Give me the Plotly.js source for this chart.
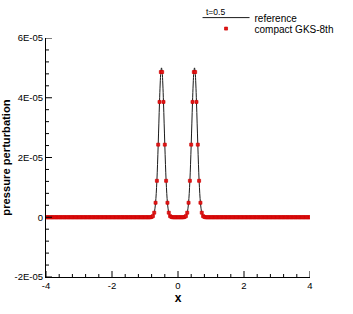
<!DOCTYPE html>
<html><head><meta charset="utf-8">
<script src="https://cdn.plot.ly/plotly-3.0.1.min.js"></script>
<style>html,body{margin:0;padding:0;background:#fff}</style>
</head><body><div id="chart" style="width:353px;height:314px"></div>
<script>
// compact GKS-8th samples (x nodes, pressure perturbation)
const gksX = [
-4,-3.96,-3.92,-3.88,-3.84,-3.8,-3.76,-3.72,-3.68,-3.64,-3.6,-3.56,-3.52,-3.48,-3.44,-3.4,-3.36,-3.32,-3.28,-3.24,
-3.2,-3.16,-3.12,-3.08,-3.04,-3,-2.96,-2.92,-2.88,-2.84,-2.8,-2.76,-2.72,-2.68,-2.64,-2.6,-2.56,-2.52,-2.48,-2.44,
-2.4,-2.36,-2.32,-2.28,-2.24,-2.2,-2.16,-2.12,-2.08,-2.04,-2,-1.96,-1.92,-1.88,-1.84,-1.8,-1.76,-1.72,-1.68,-1.64,
-1.6,-1.56,-1.52,-1.48,-1.44,-1.4,-1.36,-1.32,-1.28,-1.24,-1.2,-1.16,-1.12,-1.08,-1.04,-1,-0.96,-0.92,-0.88,-0.84,
-0.8,-0.76,-0.72,-0.68,-0.64,-0.6,-0.56,-0.52,-0.48,-0.44,-0.4,-0.36,-0.32,-0.28,-0.24,-0.2,-0.16,-0.12,-0.08,-0.04,
0,
0.04,0.08,0.12,0.16,0.2,0.24,0.28,0.32,0.36,0.4,0.44,0.48,0.52,0.56,0.6,0.64,0.68,0.72,0.76,0.8,
0.84,0.88,0.92,0.96,1,1.04,1.08,1.12,1.16,1.2,1.24,1.28,1.32,1.36,1.4,1.44,1.48,1.52,1.56,1.6,
1.64,1.68,1.72,1.76,1.8,1.84,1.88,1.92,1.96,2,2.04,2.08,2.12,2.16,2.2,2.24,2.28,2.32,2.36,2.4,
2.44,2.48,2.52,2.56,2.6,2.64,2.68,2.72,2.76,2.8,2.84,2.88,2.92,2.96,3,3.04,3.08,3.12,3.16,3.2,
3.24,3.28,3.32,3.36,3.4,3.44,3.48,3.52,3.56,3.6,3.64,3.68,3.72,3.76,3.8,3.84,3.88,3.92,3.96,4
];
const gksP = [
0,0,0,0,0,0,0,0,0,0,0,0,0,0,0,0,0,0,0,0,
0,0,0,0,0,0,0,0,0,0,0,0,0,0,0,0,0,0,0,0,
0,0,0,0,0,0,0,0,0,0,0,0,0,0,0,0,0,0,0,0,
0,0,0,0,0,0,0,0,0,0,0,0,0,0,0,0,0,0,0,0,
0.08e-6,0.39e-6,1.53e-6,4.85e-6,12.2e-6,24.3e-6,38.6e-6,48.6e-6,48.6e-6,38.6e-6,24.3e-6,12.2e-6,4.85e-6,1.53e-6,0.39e-6,0.08e-6,0,0,0,0,
0,
0,0,0,0,0.08e-6,0.39e-6,1.53e-6,4.85e-6,12.2e-6,24.3e-6,38.6e-6,48.6e-6,48.6e-6,38.6e-6,24.3e-6,12.2e-6,4.85e-6,1.53e-6,0.39e-6,0.08e-6,
0,0,0,0,0,0,0,0,0,0,0,0,0,0,0,0,0,0,0,0,
0,0,0,0,0,0,0,0,0,0,0,0,0,0,0,0,0,0,0,0,
0,0,0,0,0,0,0,0,0,0,0,0,0,0,0,0,0,0,0,0,
0,0,0,0,0,0,0,0,0,0,0,0,0,0,0,0,0,0,0,0
];
// reference solution
const refX = [-4,-0.8,-0.78,-0.76,-0.74,-0.72,-0.7,-0.68,-0.66,-0.64,-0.62,-0.6,-0.58,-0.56,-0.54,-0.52,-0.5,
-0.48,-0.46,-0.44,-0.42,-0.4,-0.38,-0.36,-0.34,-0.32,-0.3,-0.28,-0.26,-0.24,-0.22,-0.2,
0.2,0.22,0.24,0.26,0.28,0.3,0.32,0.34,0.36,0.38,0.4,0.42,0.44,0.46,0.48,0.5,
0.52,0.54,0.56,0.58,0.6,0.62,0.64,0.66,0.68,0.7,0.72,0.74,0.76,0.78,0.8,4];
const refP = [0,0.08e-6,0.18e-6,0.39e-6,0.79e-6,1.53e-6,2.81e-6,4.85e-6,7.92e-6,12.2e-6,17.7e-6,24.3e-6,31.5e-6,38.6e-6,44.6e-6,48.6e-6,50.0e-6,
48.6e-6,44.6e-6,38.6e-6,31.5e-6,24.3e-6,17.7e-6,12.2e-6,7.92e-6,4.85e-6,2.81e-6,1.53e-6,0.79e-6,0.39e-6,0.18e-6,0.08e-6,
0.08e-6,0.18e-6,0.39e-6,0.79e-6,1.53e-6,2.81e-6,4.85e-6,7.92e-6,12.2e-6,17.7e-6,24.3e-6,31.5e-6,38.6e-6,44.6e-6,48.6e-6,50.0e-6,
48.6e-6,44.6e-6,38.6e-6,31.5e-6,24.3e-6,17.7e-6,12.2e-6,7.92e-6,4.85e-6,2.81e-6,1.53e-6,0.79e-6,0.39e-6,0.18e-6,0.08e-6,0];
const yTickVals = [-2e-5, 0, 2e-5, 4e-5, 6e-5];
const yTickText = ['-2E-05', '0', '2E-05', '4E-05', '6E-05'];
const xTickVals = [-4, -2, 0, 2, 4];
const xTickText = ['-4', '-2', '0', '2', '4'];
const timeLabel = 't=0.5';
const xRange = [-4, 4];
const yRange = [-2e-5, 6e-5];
const xMinorStep = 0.4;
const yMinorStep = 4e-6;

// plot-area size in px (for tick lengths in paper units)
const W = 353, H = 314, ML = 46, MR = 43, MT = 38, MB = 37;
const PW = W - ML - MR, PH = H - MT - MB;
const majorLen = 6, minorLen = 3;

// inward-pointing tick marks placed through the axes' own data scales
const tickShapes = [];
const xTick = (v, len) => tickShapes.push({type: 'line', layer: 'above', xref: 'x', yref: 'paper',
  x0: v, x1: v, y0: 0, y1: len / PH, line: {color: '#000', width: 1}});
const yTick = (v, len) => tickShapes.push({type: 'line', layer: 'above', xref: 'paper', yref: 'y',
  x0: 0, x1: len / PW, y0: v, y1: v, line: {color: '#000', width: 1}});
xTickVals.forEach(v => xTick(v, majorLen));
yTickVals.forEach(v => yTick(v, majorLen));
for (let i = 1; i * xMinorStep < xRange[1] - xRange[0] - 1e-9; i++) {
  const v = xRange[0] + i * xMinorStep;
  if (Math.abs(v / 2 - Math.round(v / 2)) > 1e-6) xTick(v, minorLen);
}
for (let i = 1; i * yMinorStep < yRange[1] - yRange[0] - 1e-15; i++) {
  const v = yRange[0] + i * yMinorStep;
  if (Math.abs(v / 2e-5 - Math.round(v / 2e-5)) > 1e-6) yTick(v, minorLen);
}

const font = 'Liberation Sans, Arial, Helvetica, sans-serif';
const traces = [
  {x: refX, y: refP, type: 'scatter', mode: 'lines', name: 'reference',
   line: {color: '#1a1a1a', width: 1, shape: 'spline'}, legend: 'legend'},
  {x: gksX, y: gksP, type: 'scatter', mode: 'markers', name: 'compact GKS-8th',
   marker: {symbol: 'square', size: 3, color: '#e01818', line: {color: '#d00000', width: 0.7}},
   legend: 'legend2'}
];
const layout = {
  width: W, height: H,
  margin: {l: ML, r: MR, t: MT, b: MB, autoexpand: false},
  font: {family: font, color: '#000', size: 10},
  showlegend: true,
  xaxis: {range: xRange, tickmode: 'array', tickvals: xTickVals, ticktext: xTickText,
    ticks: '', showline: true, linecolor: '#000', showgrid: false, zeroline: false,
    tickfont: {size: 9.5},
    title: {text: '<b>x</b>', font: {size: 12}, standoff: 3}},
  yaxis: {range: yRange, tickmode: 'array', tickvals: yTickVals, ticktext: yTickText,
    ticks: '', showline: true, linecolor: '#000', showgrid: false, zeroline: false,
    tickfont: {size: 9.5},
    title: {text: '<b>pressure perturbation</b>', font: {size: 11.2}, standoff: 6}},
  legend: {x: 0.574, xanchor: 'left', y: 1.146, yanchor: 'top', bgcolor: 'rgba(0,0,0,0)',
    font: {size: 10}, itemwidth: 47},
  legend2: {x: 0.574, xanchor: 'left', y: 1.1, yanchor: 'top', bgcolor: 'rgba(0,0,0,0)',
    font: {size: 10}, itemwidth: 47},
  shapes: tickShapes,
  annotations: [{text: timeLabel, xref: 'paper', yref: 'paper', x: 0.597, y: 1 + 30/239 - 0.016,
    xanchor: 'left', yanchor: 'middle', showarrow: false, font: {size: 8.5}}]
};
Plotly.newPlot('chart', traces, layout, {displayModeBar: false, staticPlot: true});
</script></body></html>
